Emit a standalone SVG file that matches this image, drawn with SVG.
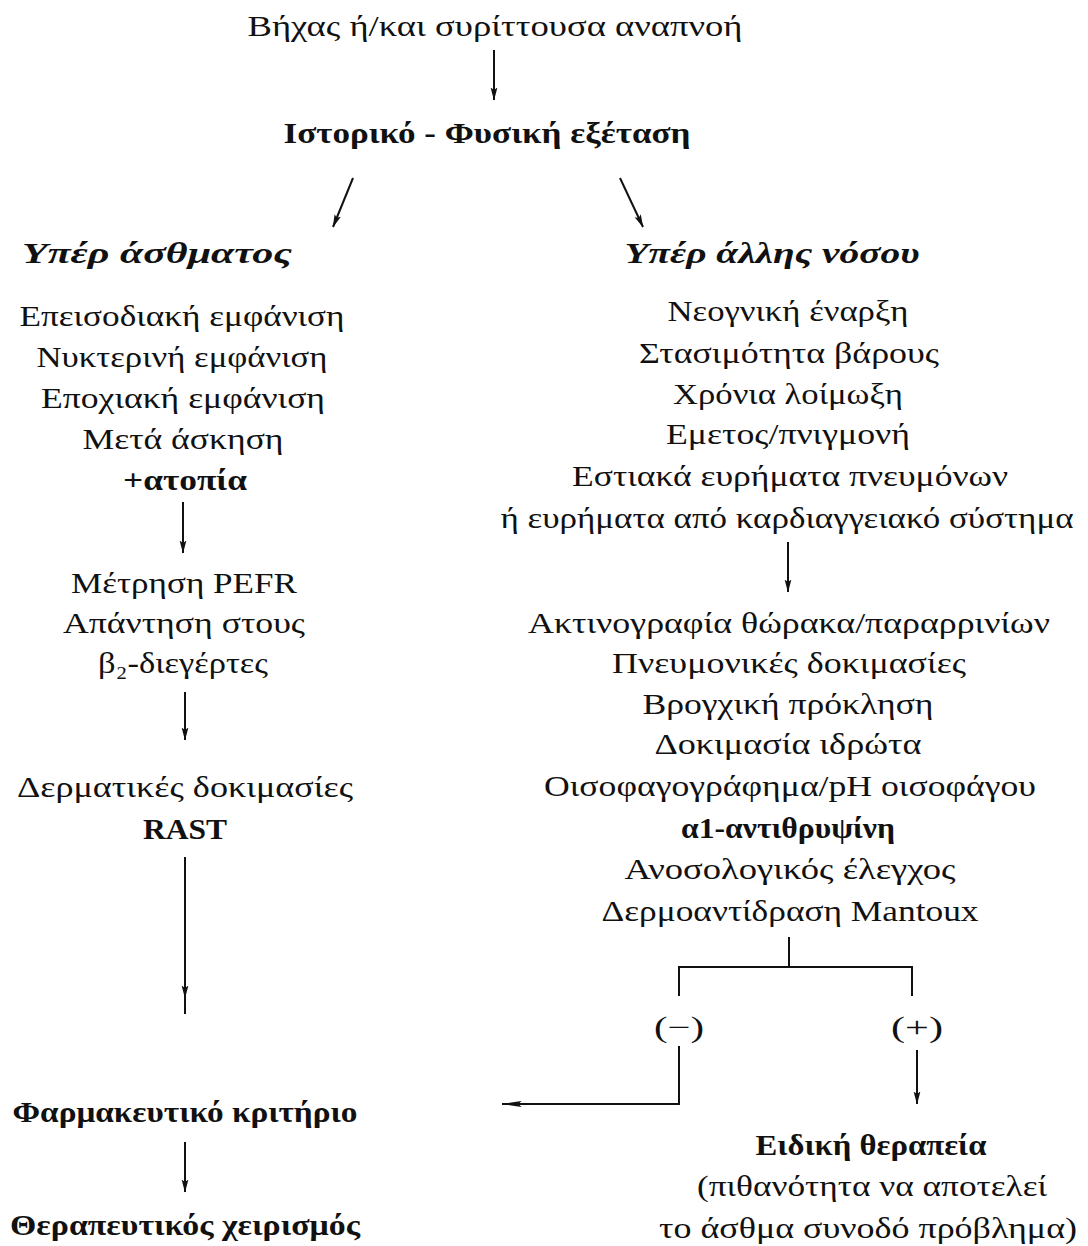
<svg xmlns="http://www.w3.org/2000/svg" width="1088" height="1246" viewBox="0 0 1088 1246">
<defs>
<marker id="ah" markerWidth="13" markerHeight="8" refX="12.5" refY="4" orient="auto" markerUnits="userSpaceOnUse" viewBox="0 0 13 8">
<path d="M13 4 L0 0.6 L2.5 4 L0 7.4 Z" fill="#111"/>
</marker>
<marker id="ahl" markerWidth="20" markerHeight="8" refX="19.5" refY="4" orient="auto" markerUnits="userSpaceOnUse" viewBox="0 0 20 8">
<path d="M20 4 L0 1 L3 4 L0 7 Z" fill="#111"/>
</marker>
<style>
text{font-family:"Liberation Serif","DejaVu Serif",serif;font-size:29px;fill:#111;text-anchor:middle}
.b{font-weight:bold}
.h{font-weight:bold;font-size:30px}
.i{font-style:italic;font-weight:bold;font-size:29px}
.c line,.c path{stroke:#111;stroke-width:2;fill:none}
</style>
</defs>
<rect width="1088" height="1246" fill="#fff"/>
<g id="n-start"><text x="495" y="36" textLength="495" lengthAdjust="spacingAndGlyphs">Βήχας ή/και συρίττουσα αναπνοή</text></g>
<g id="n-history"><text class="h" x="487" y="143" textLength="407" lengthAdjust="spacingAndGlyphs">Ιστορικό - Φυσική εξέταση</text></g>
<g id="n-asthma"><text class="i" x="157" y="263" textLength="270" lengthAdjust="spacingAndGlyphs">Υπέρ άσθματος</text></g>
<g id="n-other"><text class="i" x="772" y="263" textLength="295" lengthAdjust="spacingAndGlyphs">Υπέρ άλλης νόσου</text></g>
<g id="n-asthma-signs">
<text x="182" y="326" textLength="325" lengthAdjust="spacingAndGlyphs">Επεισοδιακή εμφάνιση</text>
<text x="182" y="367" textLength="291" lengthAdjust="spacingAndGlyphs">Νυκτερινή εμφάνιση</text>
<text x="183" y="408" textLength="284" lengthAdjust="spacingAndGlyphs">Εποχιακή εμφάνιση</text>
<text x="183" y="449" textLength="201" lengthAdjust="spacingAndGlyphs">Μετά άσκηση</text>
<text class="b" x="185" y="490" textLength="124" lengthAdjust="spacingAndGlyphs">+ατοπία</text>
</g>
<g id="n-pefr">
<text x="184" y="593" textLength="226" lengthAdjust="spacingAndGlyphs">Μέτρηση PEFR</text>
<text x="184" y="633" textLength="242" lengthAdjust="spacingAndGlyphs">Απάντηση στους</text>
<text x="183" y="673" textLength="170" lengthAdjust="spacingAndGlyphs">β₂-διεγέρτες</text>
</g>
<g id="n-skin">
<text x="185" y="797" textLength="336" lengthAdjust="spacingAndGlyphs">Δερματικές δοκιμασίες</text>
<text class="b" x="185" y="839" textLength="84" lengthAdjust="spacingAndGlyphs">RAST</text>
</g>
<g id="n-drug"><text class="h" x="185" y="1122" textLength="345" lengthAdjust="spacingAndGlyphs">Φαρμακευτικό κριτήριο</text></g>
<g id="n-treat"><text class="h" x="185" y="1235" textLength="350" lengthAdjust="spacingAndGlyphs">Θεραπευτικός χειρισμός</text></g>
<g id="n-other-signs">
<text x="788" y="321" textLength="241" lengthAdjust="spacingAndGlyphs">Νεογνική έναρξη</text>
<text x="789" y="363" textLength="300" lengthAdjust="spacingAndGlyphs">Στασιμότητα βάρους</text>
<text x="788" y="404" textLength="230" lengthAdjust="spacingAndGlyphs">Χρόνια λοίμωξη</text>
<text x="788" y="444" textLength="244" lengthAdjust="spacingAndGlyphs">Εμετος/πνιγμονή</text>
<text x="790" y="486" textLength="436" lengthAdjust="spacingAndGlyphs">Εστιακά ευρήματα πνευμόνων</text>
<text x="787" y="528" textLength="573" lengthAdjust="spacingAndGlyphs">ή ευρήματα από καρδιαγγειακό σύστημα</text>
</g>
<g id="n-tests">
<text x="789" y="633" textLength="522" lengthAdjust="spacingAndGlyphs">Ακτινογραφία θώρακα/παραρρινίων</text>
<text x="789" y="673" textLength="354" lengthAdjust="spacingAndGlyphs">Πνευμονικές δοκιμασίες</text>
<text x="788" y="714" textLength="291" lengthAdjust="spacingAndGlyphs">Βρογχική πρόκληση</text>
<text x="788" y="754" textLength="267" lengthAdjust="spacingAndGlyphs">Δοκιμασία ιδρώτα</text>
<text x="790" y="796" textLength="492" lengthAdjust="spacingAndGlyphs">Οισοφαγογράφημα/pH οισοφάγου</text>
<text class="b" x="788" y="838" textLength="214" lengthAdjust="spacingAndGlyphs">α1-αντιθρυψίνη</text>
<text x="790" y="879" textLength="331" lengthAdjust="spacingAndGlyphs">Ανοσολογικός έλεγχος</text>
<text x="790" y="921" textLength="377" lengthAdjust="spacingAndGlyphs">Δερμοαντίδραση Mantoux</text>
</g>
<g id="n-neg"><text x="679" y="1037" textLength="50" lengthAdjust="spacingAndGlyphs">(−)</text></g>
<g id="n-pos"><text x="917" y="1037" textLength="52" lengthAdjust="spacingAndGlyphs">(+)</text></g>
<g id="n-specific">
<text class="b" x="871" y="1155" textLength="231" lengthAdjust="spacingAndGlyphs">Ειδική θεραπεία</text>
<text x="872" y="1196" textLength="350" lengthAdjust="spacingAndGlyphs">(πιθανότητα να αποτελεί</text>
<text x="868" y="1238" textLength="418" lengthAdjust="spacingAndGlyphs">το άσθμα συνοδό πρόβλημα)</text>
</g>
<g id="connectors" class="c">
<line x1="494" y1="50" x2="494" y2="100" marker-end="url(#ah)"/>
<line x1="353" y1="178" x2="333" y2="227" marker-end="url(#ah)"/>
<line x1="620" y1="178" x2="643" y2="227" marker-end="url(#ah)"/>
<line x1="183" y1="502" x2="183" y2="553" marker-end="url(#ah)"/>
<line x1="185" y1="692" x2="185" y2="740" marker-end="url(#ah)"/>
<path d="M185 857 V998 V1014" marker-mid="url(#ah)"/>
<line x1="185" y1="1142" x2="185" y2="1192" marker-end="url(#ah)"/>
<line x1="788" y1="542" x2="788" y2="592" marker-end="url(#ah)"/>
<path d="M789 937 V967 M679 996 V967 H912 V996"/>
<path d="M679 1046 V1104 H502" marker-end="url(#ahl)"/>
<line x1="917" y1="1050" x2="917" y2="1104" marker-end="url(#ah)"/>
</g>
</svg>
